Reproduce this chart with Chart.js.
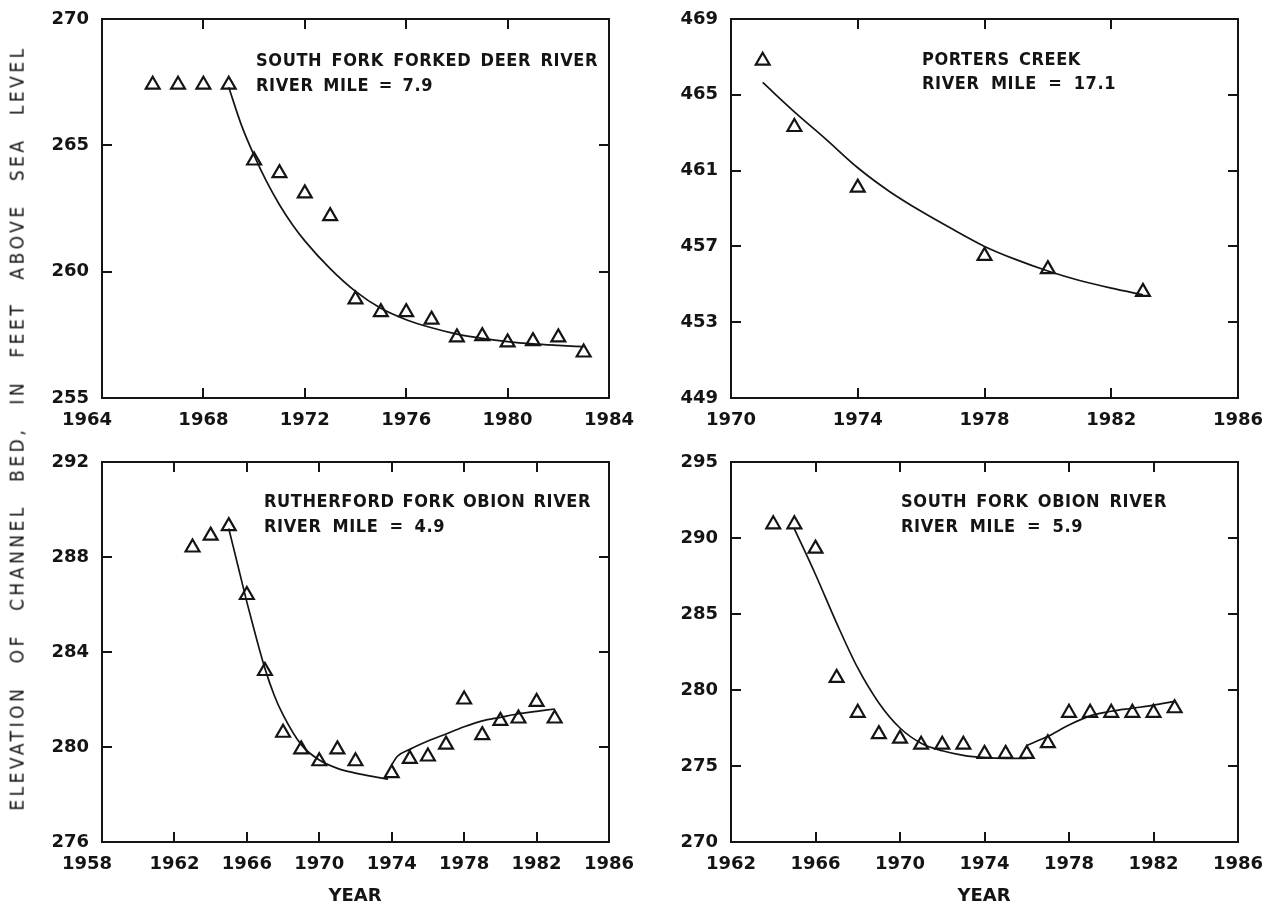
<!DOCTYPE html>
<html>
<head>
<meta charset="utf-8">
<title>Elevation of channel bed, West Tennessee streams</title>
<script src="https://cdn.jsdelivr.net/npm/chart.js@4.4.1/dist/chart.umd.min.js"></script>
<style>
  html, body { margin: 0; padding: 0; background: #fff; }
  body { position: relative; width: 1279px; height: 905px; overflow: hidden; }
  canvas.panel { position: absolute; }
  #ytitle {
    position: absolute; white-space: nowrap; color: #141414;
    font: 19px "DejaVu Sans Condensed", "DejaVu Sans", sans-serif;
    letter-spacing: 3.5px;
    line-height: 20px; transform: rotate(-90deg); transform-origin: 50% 50%;
  }
  .xtitle {
    position: absolute; white-space: nowrap; color: #141414;
    font: bold 18px "DejaVu Sans", "Liberation Sans", sans-serif;
    line-height: 20px; transform: translate(-50%, -50%);
  }
</style>
</head>
<body>
<canvas id="sfdr" class="panel"></canvas>
<canvas id="porters" class="panel"></canvas>
<canvas id="rutherford" class="panel"></canvas>
<canvas id="sfobion" class="panel"></canvas>
<div id="ytitle">ELEVATION OF CHANNEL BED, IN FEET ABOVE SEA LEVEL</div>
<div class="xtitle" style="left:355px; top:895px">YEAR</div>
<div class="xtitle" style="left:984px; top:895px">YEAR</div>
<script>
// ---------------- South Fork Forked Deer River, river mile 7.9 ----------------
const sfdTitle = ['SOUTH FORK FORKED DEER RIVER', 'RIVER MILE = 7.9'];
const sfdYears = [1966, 1967, 1968, 1969, 1970, 1971, 1972, 1973, 1974, 1975, 1976, 1977, 1978, 1979, 1980, 1981, 1982, 1983];
const sfdBed   = [267.4, 267.4, 267.4, 267.4, 264.4, 263.9, 263.1, 262.2, 258.9, 258.4, 258.4, 258.1, 257.4, 257.45, 257.2, 257.25, 257.4, 256.8];
const sfdFitYears = [1969, 1969.5, 1970, 1970.5, 1971, 1971.5, 1972, 1973, 1974, 1975, 1976, 1977, 1978, 1979, 1980, 1981, 1982, 1983];
const sfdFit      = [267.3, 265.8, 264.6, 263.55, 262.65, 261.88, 261.22, 260.12, 259.22, 258.55, 258.1, 257.78, 257.53, 257.36, 257.23, 257.14, 257.08, 257.03];
const sfdXTicks = [1964, 1968, 1972, 1976, 1980, 1984];
const sfdYTicks = [255, 260, 265, 270];

// ---------------- Porters Creek, river mile 17.1 ----------------
const pcTitle = ['PORTERS CREEK', 'RIVER MILE = 17.1'];
const pcYears = [1971, 1972, 1974, 1978, 1980, 1983];
const pcBed   = [466.8, 463.3, 460.1, 456.5, 455.8, 454.6];
const pcFitYears = [1971, 1972, 1973, 1974, 1975, 1976, 1977, 1978, 1979, 1980, 1981, 1982, 1983];
const pcFit      = [465.65, 464.1, 462.65, 461.15, 459.9, 458.85, 457.9, 457.0, 456.3, 455.7, 455.2, 454.8, 454.45];
const pcXTicks = [1970, 1974, 1978, 1982, 1986];
const pcYTicks = [449, 453, 457, 461, 465, 469];

// ---------------- Rutherford Fork Obion River, river mile 4.9 ----------------
const rfTitle = ['RUTHERFORD FORK OBION RIVER', 'RIVER MILE = 4.9'];
const rfYears = [1963, 1964, 1965, 1966, 1967, 1968, 1969, 1970, 1971, 1972, 1974, 1975, 1976, 1977, 1978, 1979, 1980, 1981, 1982, 1983];
const rfBed   = [288.4, 288.9, 289.3, 286.4, 283.2, 280.6, 279.9, 279.4, 279.9, 279.4, 278.9, 279.5, 279.6, 280.1, 282.0, 280.5, 281.1, 281.2, 281.9, 281.2];
const rfFallYears = [1965, 1965.5, 1966, 1966.5, 1967, 1967.5, 1968, 1969, 1970, 1971, 1972, 1973, 1973.8];
const rfFall      = [289.2, 287.65, 286.1, 284.65, 283.3, 282.2, 281.35, 280.1, 279.45, 279.1, 278.9, 278.75, 278.65];
const rfRiseYears = [1974, 1974.3, 1975, 1976, 1977, 1978, 1979, 1980, 1981, 1982, 1983];
const rfRise      = [279.25, 279.6, 279.9, 280.25, 280.55, 280.85, 281.1, 281.25, 281.4, 281.5, 281.6];
const rfXTicks = [1958, 1962, 1966, 1970, 1974, 1978, 1982, 1986];
const rfYTicks = [276, 280, 284, 288, 292];

// ---------------- South Fork Obion River, river mile 5.9 ----------------
const soTitle = ['SOUTH FORK OBION RIVER', 'RIVER MILE = 5.9'];
const soYears = [1964, 1965, 1966, 1967, 1968, 1969, 1970, 1971, 1972, 1973, 1974, 1975, 1976, 1977, 1978, 1979, 1980, 1981, 1982, 1983];
const soBed   = [290.9, 290.9, 289.3, 280.8, 278.5, 277.1, 276.8, 276.4, 276.4, 276.4, 275.8, 275.8, 275.8, 276.5, 278.5, 278.5, 278.5, 278.5, 278.5, 278.8];
const soFallYears = [1965, 1966, 1967, 1968, 1969, 1970, 1971, 1972, 1973, 1974, 1975, 1976];
const soFall      = [290.6, 287.6, 284.4, 281.45, 279.15, 277.5, 276.5, 276.0, 275.7, 275.55, 275.5, 275.5];
const soRiseYears = [1976, 1977, 1978, 1979, 1980, 1981, 1982, 1983];
const soRise      = [276.35, 276.95, 277.7, 278.3, 278.6, 278.8, 279.0, 279.25];
const soXTicks = [1962, 1966, 1970, 1974, 1978, 1982, 1986];
const soYTicks = [270, 275, 280, 285, 290, 295];

// ---------------- drawing ----------------
const INK = '#141414';
const TICK_FONT = 'bold 18px "DejaVu Sans", "Liberation Sans", sans-serif';
const NOTE_FONT = 'bold 18px "DejaVu Sans Condensed", "DejaVu Sans", sans-serif';
const TICK_LEN = 10;
const PAD = { left: 100, top: 20, right: 40, bottom: 45 };
const panelLayouts = {};   // per-canvas axis ticks and note placement

const pairs = (xs, ys) => xs.map((x, i) => ({ x: x, y: ys[i] }));

// Spread the words of one line so that it spans the given width.
function drawSpread(ctx, text, x, y, width) {
  const words = text.split(' ');
  const widths = words.map(w => ctx.measureText(w).width);
  const used = widths.reduce((a, b) => a + b, 0);
  const gap = words.length > 1 ? (width - used) / (words.length - 1) : 0;
  let cx = x;
  words.forEach((w, i) => { ctx.fillText(w, cx, y); cx += widths[i] + gap; });
}

// Frame, inward tick marks on all four sides, tick labels and the station note.
const panelFrame = {
  id: 'panelFrame',
  afterDraw(chart) {
    const L = panelLayouts[chart.canvas.id];
    if (!L) return;
    const { ctx, chartArea: a } = chart;
    const xs = chart.scales.x, ys = chart.scales.y;
    ctx.save();
    ctx.strokeStyle = INK;
    ctx.fillStyle = INK;
    ctx.lineWidth = 2;
    ctx.strokeRect(a.left, a.top, a.right - a.left, a.bottom - a.top);
    ctx.beginPath();
    L.xTicks.slice(1, -1).forEach(v => {
      const px = Math.round(xs.getPixelForValue(v));
      ctx.moveTo(px, a.bottom); ctx.lineTo(px, a.bottom - TICK_LEN);
      ctx.moveTo(px, a.top);    ctx.lineTo(px, a.top + TICK_LEN);
    });
    L.yTicks.slice(1, -1).forEach(v => {
      const py = Math.round(ys.getPixelForValue(v));
      ctx.moveTo(a.left, py);  ctx.lineTo(a.left + TICK_LEN, py);
      ctx.moveTo(a.right, py); ctx.lineTo(a.right - TICK_LEN, py);
    });
    ctx.stroke();

    ctx.font = TICK_FONT;
    ctx.textBaseline = 'middle';
    ctx.textAlign = 'center';
    L.xTicks.forEach((v, i) => {
      const px = xs.getPixelForValue(v) + (i === 0 ? L.firstShift : 0);
      ctx.fillText(String(v), px, a.bottom + 22);
    });
    ctx.textAlign = 'right';
    L.yTicks.forEach(v => ctx.fillText(String(v), a.left - 13, ys.getPixelForValue(v)));

    ctx.font = NOTE_FONT;
    if ('letterSpacing' in ctx) ctx.letterSpacing = '0.6px';
    ctx.textAlign = 'left';
    L.title.forEach((line, i) => {
      drawSpread(ctx, line, a.left + L.noteX, a.top + L.noteY[i], L.noteW[i]);
    });
    ctx.restore();
  }
};

function buildPanel(id, box, L, points, curves) {
  panelLayouts[id] = L;
  const canvas = document.getElementById(id);
  const w = box.right - box.left, h = box.bottom - box.top;
  canvas.width = w + PAD.left + PAD.right;
  canvas.height = h + PAD.top + PAD.bottom;
  canvas.style.left = (box.left - PAD.left) + 'px';
  canvas.style.top = (box.top - PAD.top) + 'px';

  const datasets = [{
    data: points,
    showLine: false,
    pointStyle: 'triangle',
    pointRadius: 8,
    pointBorderWidth: 2.2,
    pointBorderColor: INK,
    pointBackgroundColor: 'rgba(0,0,0,0)'
  }];
  curves.forEach(c => datasets.push({
    data: c,
    showLine: true,
    pointRadius: 0,
    borderColor: INK,
    borderWidth: 1.7,
    cubicInterpolationMode: 'monotone',
    fill: false
  }));

  return new Chart(canvas, {
    type: 'scatter',
    data: { datasets: datasets },
    options: {
      responsive: false,
      animation: false,
      events: [],
      devicePixelRatio: 1,
      layout: { padding: PAD },
      plugins: { legend: { display: false }, tooltip: { enabled: false } },
      scales: {
        x: { type: 'linear', display: false, min: L.xTicks[0], max: L.xTicks[L.xTicks.length - 1] },
        y: { type: 'linear', display: false, min: L.yTicks[0], max: L.yTicks[L.yTicks.length - 1] }
      }
    },
    plugins: [panelFrame]
  });
}

buildPanel('sfdr', { left: 102, top: 19, right: 609, bottom: 398 },
  { xTicks: sfdXTicks, yTicks: sfdYTicks, title: sfdTitle, firstShift: -15,
    noteX: 154, noteY: [42, 67], noteW: [342, 177] },
  pairs(sfdYears, sfdBed), [pairs(sfdFitYears, sfdFit)]);

buildPanel('porters', { left: 731, top: 19, right: 1238, bottom: 398 },
  { xTicks: pcXTicks, yTicks: pcYTicks, title: pcTitle, firstShift: 0,
    noteX: 191, noteY: [41, 65], noteW: [159, 194] },
  pairs(pcYears, pcBed), [pairs(pcFitYears, pcFit)]);

buildPanel('rutherford', { left: 102, top: 462, right: 609, bottom: 842 },
  { xTicks: rfXTicks, yTicks: rfYTicks, title: rfTitle, firstShift: -15,
    noteX: 162, noteY: [40, 65], noteW: [327, 181] },
  pairs(rfYears, rfBed), [pairs(rfFallYears, rfFall), pairs(rfRiseYears, rfRise)]);

buildPanel('sfobion', { left: 731, top: 462, right: 1238, bottom: 842 },
  { xTicks: soXTicks, yTicks: soYTicks, title: soTitle, firstShift: 0,
    noteX: 170, noteY: [40, 65], noteW: [266, 182] },
  pairs(soYears, soBed), [pairs(soFallYears, soFall), pairs(soRiseYears, soRise)]);

// Shared vertical axis title: widen the word gaps until it spans the left margin.
(function placeYTitle() {
  const el = document.getElementById('ytitle');
  const target = 765, cx = 16, cy = 428;
  const gaps = el.textContent.split(' ').length - 1;
  const w0 = el.offsetWidth;
  el.style.wordSpacing = Math.max(0, (target - w0) / gaps).toFixed(2) + 'px';
  const w = el.offsetWidth, h = el.offsetHeight;
  el.style.left = (cx - w / 2) + 'px';
  el.style.top = (cy - h / 2) + 'px';
})();
</script>
</body>
</html>
